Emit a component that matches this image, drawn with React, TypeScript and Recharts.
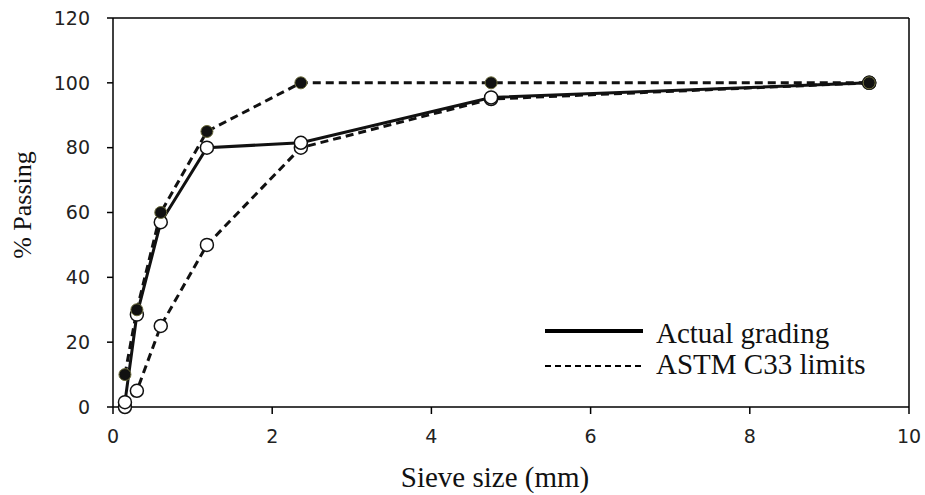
import React from 'react';
import { LineChart, Line, XAxis, YAxis, ReferenceLine } from 'recharts';

const sieveSizes = [0.15, 0.3, 0.6, 1.18, 2.36, 4.75, 9.5];
const actualGrading = [1.5, 28.5, 57, 80, 81.5, 95.5, 100];
const upperLimit = [10, 30, 60, 85, 100, 100, 100];
const lowerLimit = [0, 5, 25, 50, 80, 95, 100];
const xTicks = [0, 2, 4, 6, 8, 10];
const yTicks = [0, 20, 40, 60, 80, 100, 120];

const data = sieveSizes.map((s, i) => ({
  size: s,
  actual: actualGrading[i],
  upper: upperLimit[i],
  lower: lowerLimit[i],
}));

const tickStyle = { fontFamily: 'DejaVu Sans', fontSize: 19, fill: '#222' };
const serif = '"Liberation Serif", "Times New Roman", serif';

const OpenDot = (props: any) => {
  const { cx, cy } = props;
  if (cx == null || cy == null) return null;
  return <circle cx={cx} cy={cy} r={6.5} fill="#fff" stroke="#111" strokeWidth={1.5} />;
};

const FilledDot = (props: any) => {
  const { cx, cy } = props;
  if (cx == null || cy == null) return null;
  return <circle cx={cx} cy={cy} r={6} fill="#111" stroke="#6b6b3a" strokeWidth={1} />;
};

export default function App() {
  return (
    <div style={{ position: 'absolute', left: 0, top: 0, width: 925, height: 495, background: '#fff' }}>
      <LineChart
        width={925}
        height={495}
        data={data}
        margin={{ top: 18, right: 16, bottom: 8, left: 0 }}
      >
        <XAxis
          dataKey="size"
          type="number"
          domain={[0, 10]}
          ticks={xTicks}
          allowDataOverflow
          height={80}
          stroke="#000"
          strokeWidth={1.5}
          tickSize={7}
          tickMargin={16}
          tick={tickStyle}
          label={() => (
            <text x={495} y={487} textAnchor="middle" fontFamily={serif} fontSize={29} fill="#111">
              Sieve size (mm)
            </text>
          )}
        />
        <YAxis
          type="number"
          domain={[0, 120]}
          ticks={yTicks}
          width={113}
          stroke="#000"
          strokeWidth={1.5}
          tickSize={6}
          tickMargin={17}
          tick={tickStyle}
          label={() => (
            <text
              x={22}
              y={205}
              transform="rotate(-90 22 205)"
              textAnchor="middle"
              dominantBaseline="central"
              fontFamily={serif}
              fontSize={26}
              fill="#111"
            >
              % Passing
            </text>
          )}
        />
        <ReferenceLine y={120} stroke="#000" strokeWidth={1.5} />
        <ReferenceLine x={10} stroke="#000" strokeWidth={1.5} />
        <Line
          dataKey="lower"
          stroke="#111"
          strokeWidth={3}
          strokeDasharray="8 5"
          dot={<OpenDot />}
          isAnimationActive={false}
        />
        <Line
          dataKey="actual"
          stroke="#111"
          strokeWidth={3}
          dot={<OpenDot />}
          isAnimationActive={false}
        />
        <Line
          dataKey="upper"
          stroke="#111"
          strokeWidth={3}
          strokeDasharray="8 5"
          dot={<FilledDot />}
          isAnimationActive={false}
        />
      </LineChart>
      <svg
        width={370}
        height={70}
        style={{ position: 'absolute', left: 540, top: 312 }}
      >
        <line x1={5} y1={19} x2={103} y2={19} stroke="#000" strokeWidth={4} />
        <line x1={5} y1={54} x2={103} y2={54} stroke="#000" strokeWidth={2} strokeDasharray="6 4" />
        <text x={116} y={21} dominantBaseline="central" fontFamily={serif} fontSize={29} fill="#111">
          Actual grading
        </text>
        <text x={116} y={52} dominantBaseline="central" fontFamily={serif} fontSize={29} fill="#111">
          ASTM C33 limits
        </text>
      </svg>
    </div>
  );
}
